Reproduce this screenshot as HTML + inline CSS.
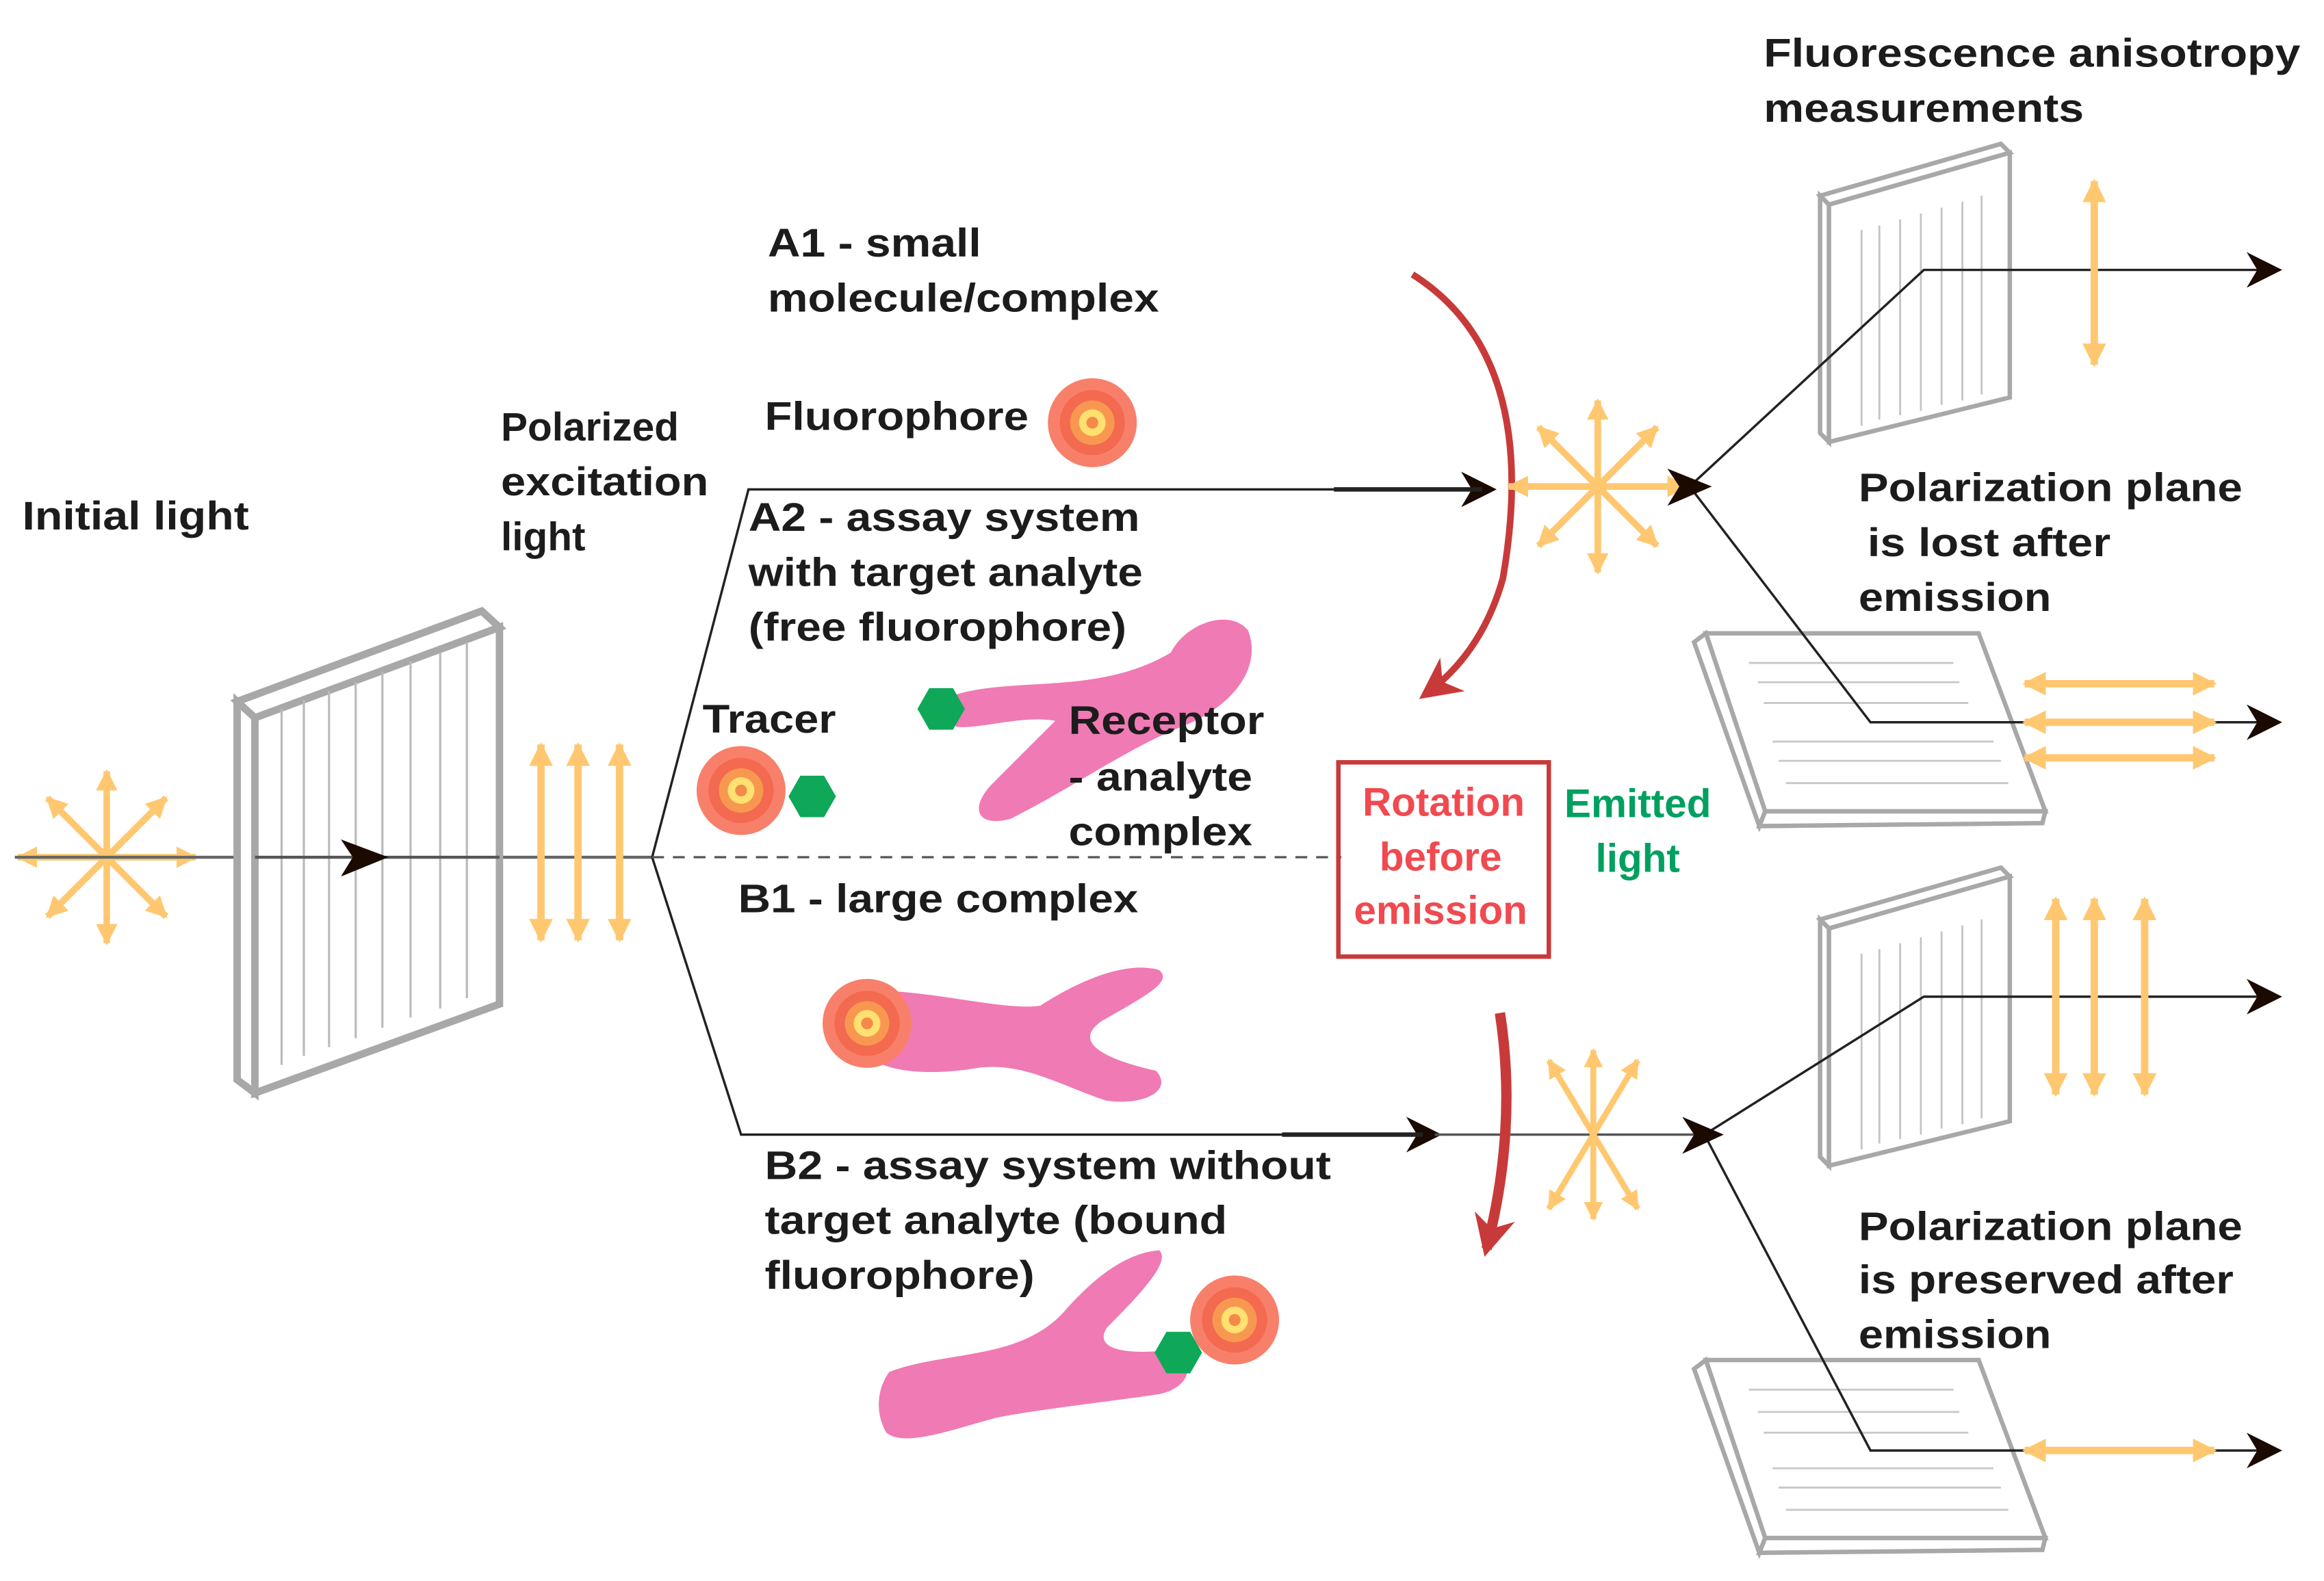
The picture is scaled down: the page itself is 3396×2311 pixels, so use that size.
<!DOCTYPE html>
<html><head><meta charset="utf-8"><style>
html,body{margin:0;padding:0;background:#fff;}
svg{display:block;}
text{font-family:"Liberation Sans",Arial,sans-serif;font-weight:bold;font-size:27px;fill:#1c1c1c;}
</style></head><body>
<svg width="3396" height="2311" viewBox="0 0 1568 1066" preserveAspectRatio="none" xmlns="http://www.w3.org/2000/svg">
<defs>
<marker id="oh" viewBox="0 0 10 10" refX="9" refY="5" markerWidth="3.2" markerHeight="3.6" orient="auto-start-reverse" markerUnits="strokeWidth"><path d="M0,0 L10,5 L0,10 Z" fill="#FFC870"/></marker>
<marker id="bh" viewBox="0 0 10 10" refX="8" refY="5" markerWidth="30" markerHeight="24" orient="auto" markerUnits="userSpaceOnUse"><path d="M0,0 L10,5 L0,10 L3,5 Z" fill="#1a0a00"/></marker>
<marker id="rh" viewBox="0 0 10 10" refX="8" refY="5" markerWidth="28" markerHeight="28" orient="auto" markerUnits="userSpaceOnUse"><path d="M0,0 L10,5 L0,10 L3,5 Z" fill="#C83A3A"/></marker>
<g id="fl"><circle r="30" fill="#F8806A"/><circle r="22" fill="#F36A50"/><circle r="15" fill="#F89850"/><circle r="9" fill="#FFE070"/><circle r="4" fill="#F38A4A"/></g>
<polygon id="hex" points="16,0 8,14 -8,14 -16,0 -8,-14 8,-14" fill="#0EA858"/>
<g id="star" stroke="#FFC870" stroke-width="4.5" fill="none">
<line x1="-60" y1="0" x2="60" y2="0" marker-start="url(#oh)" marker-end="url(#oh)"/>
<line x1="0" y1="-58" x2="0" y2="58" marker-start="url(#oh)" marker-end="url(#oh)"/>
<line x1="-40" y1="-40" x2="40" y2="40" marker-start="url(#oh)" marker-end="url(#oh)"/>
<line x1="-40" y1="40" x2="40" y2="-40" marker-start="url(#oh)" marker-end="url(#oh)"/>
</g>
</defs>

<use href="#star" x="72" y="578"/>
<line x1="10" y1="578" x2="440" y2="578" stroke="#666" stroke-width="2"/>

<g fill="none" stroke="#a8a8a8">
<polygon points="160,473 325,412 337,423 172,484" stroke-width="5" fill="#fff"/>
<polygon points="160,473 172,484 172,737 160,728" stroke-width="5" fill="#fff"/>
<polygon points="172,484 337,423 337,677 172,737" stroke-width="5" fill="#fff"/>
<g stroke="#bbb" stroke-width="1.5">
<line x1="190" y1="478" x2="190" y2="718"/><line x1="205" y1="472" x2="205" y2="712"/><line x1="222" y1="466" x2="222" y2="706"/><line x1="240" y1="460" x2="240" y2="700"/><line x1="258" y1="453" x2="258" y2="693"/><line x1="277" y1="446" x2="277" y2="686"/><line x1="297" y1="440" x2="297" y2="680"/><line x1="315" y1="433" x2="315" y2="673"/>
</g>
</g>
<line x1="172" y1="578" x2="337" y2="578" stroke="#555" stroke-width="2"/>
<path d="M230,566 L262,578 L230,591 L238,578 Z" fill="#1a0a00"/>

<g stroke="#FFC870" stroke-width="5">
<line x1="365" y1="502" x2="365" y2="634" marker-start="url(#oh)" marker-end="url(#oh)"/>
<line x1="390" y1="502" x2="390" y2="634" marker-start="url(#oh)" marker-end="url(#oh)"/>
<line x1="418" y1="502" x2="418" y2="634" marker-start="url(#oh)" marker-end="url(#oh)"/>
</g>

<polyline points="440,578 505,330 1005,330" fill="none" stroke="#222" stroke-width="1.6" marker-end="url(#bh)"/>
<polyline points="440,578 500,765 968,765" fill="none" stroke="#222" stroke-width="1.6" marker-end="url(#bh)"/>
<line x1="900" y1="330" x2="1000" y2="330" stroke="#222" stroke-width="3"/>
<line x1="865" y1="765" x2="960" y2="765" stroke="#222" stroke-width="3"/>
<line x1="440" y1="578" x2="905" y2="578" stroke="#555" stroke-width="1.5" stroke-dasharray="8,6"/>
<line x1="968" y1="765" x2="1150" y2="765" stroke="#555" stroke-width="1.6"/>

<path d="M953,185 Q1040,240 1014,390 Q1000,440 962,468" fill="none" stroke="#C83A3A" stroke-width="4.5" marker-end="url(#rh)"/>
<path d="M1012,683 Q1024,760 1003,842" fill="none" stroke="#C83A3A" stroke-width="7" marker-end="url(#rh)"/>

<use href="#star" x="1078" y="328"/>
<g stroke="#FFC870" stroke-width="4" fill="none">
<line x1="1045" y1="715" x2="1105" y2="815" marker-start="url(#oh)" marker-end="url(#oh)"/>
<line x1="1045" y1="815" x2="1105" y2="715" marker-start="url(#oh)" marker-end="url(#oh)"/>
<line x1="1075" y1="708" x2="1075" y2="822" marker-start="url(#oh)" marker-end="url(#oh)"/>
</g>

<!-- panels -->
<g fill="#fff" stroke="#a8a8a8" stroke-width="3">
<polygon points="1228,132 1350,97 1356,103 1234,138"/>
<polygon points="1228,132 1234,138 1234,298 1228,292"/>
<polygon points="1234,138 1356,103 1356,268 1234,298"/>
<polygon points="1228,620 1350,585 1356,591 1234,626"/>
<polygon points="1228,620 1234,626 1234,786 1228,780"/>
<polygon points="1234,626 1356,591 1356,756 1234,786"/>
</g>
<g stroke="#c4c4c4" stroke-width="1.3">
<line x1="1256" y1="155" x2="1256" y2="287"/><line x1="1268" y1="152" x2="1268" y2="283"/><line x1="1282" y1="148" x2="1282" y2="280"/><line x1="1296" y1="144" x2="1296" y2="277"/><line x1="1310" y1="140" x2="1310" y2="273"/><line x1="1324" y1="136" x2="1324" y2="270"/><line x1="1337" y1="132" x2="1337" y2="266"/>
<line x1="1256" y1="643" x2="1256" y2="775"/><line x1="1268" y1="640" x2="1268" y2="771"/><line x1="1282" y1="636" x2="1282" y2="768"/><line x1="1296" y1="632" x2="1296" y2="765"/><line x1="1310" y1="628" x2="1310" y2="761"/><line x1="1324" y1="624" x2="1324" y2="758"/><line x1="1337" y1="620" x2="1337" y2="754"/>
</g>
<g fill="#fff" stroke="#a8a8a8" stroke-width="3">
<polygon points="1143,433 1151,427 1191,547 1187,557"/>
<polygon points="1187,557 1191,547 1380,547 1378,555"/>
<polygon points="1151,427 1335,427 1380,547 1191,547"/>
<polygon points="1143,923 1151,917 1191,1037 1187,1047"/>
<polygon points="1187,1047 1191,1037 1380,1037 1378,1045"/>
<polygon points="1151,917 1335,917 1380,1037 1191,1037"/>
</g>
<g stroke="#c8c8c8" stroke-width="1.3">
<line x1="1180" y1="447" x2="1318" y2="447"/><line x1="1186" y1="460" x2="1322" y2="460"/><line x1="1190" y1="474" x2="1328" y2="474"/><line x1="1196" y1="500" x2="1345" y2="500"/><line x1="1200" y1="513" x2="1350" y2="513"/><line x1="1205" y1="528" x2="1355" y2="528"/>
<line x1="1180" y1="937" x2="1318" y2="937"/><line x1="1186" y1="952" x2="1322" y2="952"/><line x1="1190" y1="966" x2="1328" y2="966"/><line x1="1196" y1="990" x2="1345" y2="990"/><line x1="1200" y1="1003" x2="1350" y2="1003"/><line x1="1205" y1="1018" x2="1355" y2="1018"/>
</g>

<!-- right beams (over panels) -->
<polyline points="1140,328 1298,182 1535,182" fill="none" stroke="#222" stroke-width="1.6" marker-end="url(#bh)"/>
<polyline points="1140,328 1262,487 1535,487" fill="none" stroke="#222" stroke-width="1.6" marker-end="url(#bh)"/>
<polyline points="1150,765 1298,672 1535,672" fill="none" stroke="#222" stroke-width="1.6" marker-end="url(#bh)"/>
<polyline points="1150,765 1262,978 1535,978" fill="none" stroke="#222" stroke-width="1.6" marker-end="url(#bh)"/>
<path d="M1125,316 L1155,328 L1125,341 L1133,328 Z" fill="#1a0a00"/>
<path d="M1135,753 L1163,765 L1135,778 L1143,765 Z" fill="#1a0a00"/>

<g stroke="#FFC870" stroke-width="5">
<line x1="1413" y1="122" x2="1413" y2="246" marker-start="url(#oh)" marker-end="url(#oh)"/>
<line x1="1366" y1="461" x2="1494" y2="461" marker-start="url(#oh)" marker-end="url(#oh)"/>
<line x1="1366" y1="487" x2="1494" y2="487" marker-start="url(#oh)" marker-end="url(#oh)"/>
<line x1="1366" y1="511" x2="1494" y2="511" marker-start="url(#oh)" marker-end="url(#oh)"/>
<line x1="1387" y1="606" x2="1387" y2="738" marker-start="url(#oh)" marker-end="url(#oh)"/>
<line x1="1413" y1="606" x2="1413" y2="738" marker-start="url(#oh)" marker-end="url(#oh)"/>
<line x1="1447" y1="606" x2="1447" y2="738" marker-start="url(#oh)" marker-end="url(#oh)"/>
<line x1="1366" y1="978" x2="1494" y2="978" marker-start="url(#oh)" marker-end="url(#oh)"/>
</g>

<path d="M640,470 C680,455 740,470 790,440 C800,420 830,410 842,425 C852,450 832,478 792,492 C752,510 722,532 682,552 C660,558 654,546 668,530 C688,510 702,496 712,486 C690,482 660,492 645,490 Z" fill="#F07AB4"/>
<path d="M590,668 C630,668 680,682 702,678 C730,660 760,648 782,654 C792,662 772,672 744,688 C726,700 736,712 780,722 C792,735 772,746 746,742 C716,732 690,716 660,720 C630,725 600,724 585,712 Z" fill="#F07AB4"/>
<path d="M600,925 C640,910 690,918 720,882 C740,860 760,845 782,843 C790,850 772,870 747,895 C737,910 760,914 792,910 C808,920 802,936 782,940 C742,946 702,950 672,956 C642,964 610,976 598,966 C590,952 592,936 600,925 Z" fill="#F07AB4"/>
<use href="#fl" x="737" y="285"/>
<use href="#fl" x="500" y="533"/>
<use href="#fl" x="585" y="690"/>
<use href="#fl" x="833" y="890"/>
<use href="#hex" x="548" y="537"/>
<use href="#hex" x="635" y="478"/>
<use href="#hex" x="795" y="912"/>

<rect x="903" y="514" width="142" height="131" fill="none" stroke="#C83A3A" stroke-width="3"/>
<text x="974" y="550" text-anchor="middle" style="fill:#F04A50">Rotation</text>
<text x="972" y="587" text-anchor="middle" style="fill:#F04A50">before</text>
<text x="972" y="623" text-anchor="middle" style="fill:#F04A50">emission</text>
<text x="1105" y="551" text-anchor="middle" style="fill:#00A060">Emitted</text>
<text x="1105" y="588" text-anchor="middle" style="fill:#00A060">light</text>

<g lengthAdjust="spacingAndGlyphs">
<text x="15" y="357" textLength="153" lengthAdjust="spacingAndGlyphs">Initial light</text>
<text x="338" y="297">Polarized</text>
<text x="338" y="334" textLength="140" lengthAdjust="spacingAndGlyphs">excitation</text>
<text x="338" y="371">light</text>
<text x="518" y="173" textLength="144" lengthAdjust="spacingAndGlyphs">A1 - small</text>
<text x="518" y="210" textLength="264" lengthAdjust="spacingAndGlyphs">molecule/complex</text>
<text x="516" y="290" textLength="178" lengthAdjust="spacingAndGlyphs">Fluorophore</text>
<text x="505" y="358" textLength="264" lengthAdjust="spacingAndGlyphs">A2 - assay system</text>
<text x="505" y="395" textLength="266" lengthAdjust="spacingAndGlyphs">with target analyte</text>
<text x="505" y="432" textLength="255" lengthAdjust="spacingAndGlyphs">(free fluorophore)</text>
<text x="474" y="494" textLength="90" lengthAdjust="spacingAndGlyphs">Tracer</text>
<text x="721" y="495" textLength="132" lengthAdjust="spacingAndGlyphs">Receptor</text>
<text x="721" y="533" textLength="124" lengthAdjust="spacingAndGlyphs">- analyte</text>
<text x="721" y="570" textLength="124" lengthAdjust="spacingAndGlyphs">complex</text>
<text x="498" y="615" textLength="270" lengthAdjust="spacingAndGlyphs">B1 - large complex</text>
<text x="516" y="795" textLength="382" lengthAdjust="spacingAndGlyphs">B2 - assay system without</text>
<text x="516" y="832" textLength="312" lengthAdjust="spacingAndGlyphs">target analyte (bound</text>
<text x="516" y="869" textLength="182" lengthAdjust="spacingAndGlyphs">fluorophore)</text>
<text x="1190" y="45" textLength="362" lengthAdjust="spacingAndGlyphs">Fluorescence anisotropy</text>
<text x="1190" y="82" textLength="216" lengthAdjust="spacingAndGlyphs">measurements</text>
<text x="1254" y="338" textLength="259" lengthAdjust="spacingAndGlyphs">Polarization plane</text>
<text x="1260" y="375" textLength="164" lengthAdjust="spacingAndGlyphs">is lost after</text>
<text x="1254" y="412" textLength="130" lengthAdjust="spacingAndGlyphs">emission</text>
<text x="1254" y="836" textLength="259" lengthAdjust="spacingAndGlyphs">Polarization plane</text>
<text x="1254" y="872" textLength="253" lengthAdjust="spacingAndGlyphs">is preserved after</text>
<text x="1254" y="909" textLength="130" lengthAdjust="spacingAndGlyphs">emission</text>
</g>
</svg>
</body></html>
